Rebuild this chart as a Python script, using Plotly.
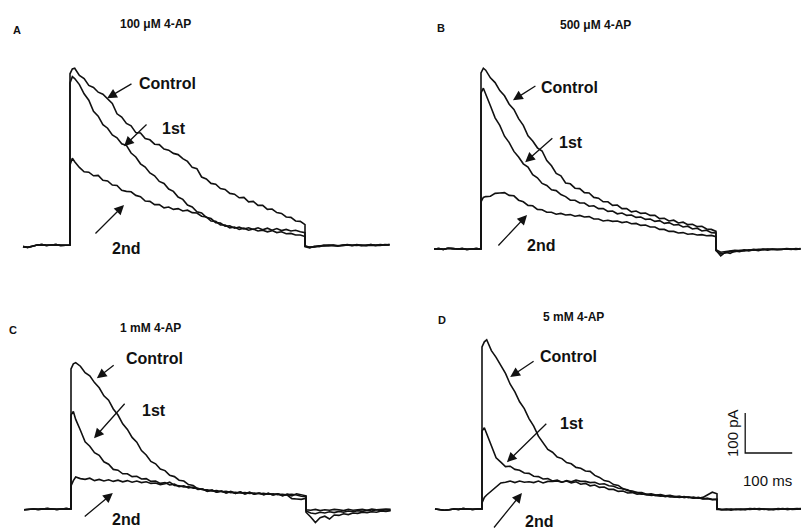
import plotly.graph_objects as go

# ---------------- data (ms, pA) ----------------
T_PRE = [-100, -90, -80, -70, -60, -50, -40, -30, -20, -10, 0]
T_PULSE = [0, 5, 10, 20, 30, 40, 50, 60, 70, 80, 90, 100, 110, 120, 130, 140, 150, 160, 170, 180,
           190, 200, 210, 220, 230, 240, 250, 260, 270, 280, 290, 300, 310, 320, 330, 340, 350, 360,
           370, 380, 390, 400, 410, 420, 430, 440, 450, 460, 470, 480, 490, 500]
T_POST = [500, 510, 520, 530, 540, 550, 560, 570, 580, 590, 600, 610, 620, 630, 640, 650, 660, 670, 680]

# Panel A: 100 uM 4-AP
A_PRE = [-4, -6, -3, 0, 1, -1, 0, 1, -1, 0, 0]
A_CTRL = [428, 440, 442, 424, 416, 399, 394, 382, 377, 366, 354, 328, 320, 304, 298, 281, 280, 266, 263, 252,
          251, 240, 237, 229, 226, 216, 209, 194, 191, 170, 165, 154, 152, 141, 139, 129, 127, 118, 119, 108,
          109, 99, 99, 89, 90, 81, 79, 70, 69, 60, 59, 51]
A_1ST = [405, 421, 416, 401, 378, 362, 334, 322, 301, 292, 275, 268, 253, 249, 230, 220, 203, 195, 180, 173,
         159, 154, 140, 134, 120, 114, 100, 95, 83, 80, 69, 66, 56, 55, 47, 48, 42, 45, 40, 43,
         39, 43, 38, 42, 37, 41, 36, 39, 35, 37, 33, 31]
A_2ND = [200, 217, 208, 194, 183, 182, 173, 174, 162, 160, 150, 149, 137, 134, 133, 124, 121, 110, 109, 101,
         101, 93, 95, 89, 91, 85, 87, 81, 80, 72, 70, 60, 59, 50, 50, 43, 45, 39, 42, 37,
         40, 35, 37, 33, 36, 31, 33, 28, 29, 25, 25, 21]
A_CTRL_POST = [-2, -6, -4, -3, -1, -2, 0, -2, -1, 1, -1, 0, -2, 0, 1, -1, 1, 0, 1]
A_1ST_POST = [-3, -5, -5, -2, -2, 0, -1, -3, 0, 0, -2, 1, -1, -1, 0, 0, -1, 1, 0]
A_2ND_POST = [-4, -7, -3, -4, -1, -1, -2, -1, -2, 0, -1, -1, 0, -2, 1, -1, 0, 0, 1]

# Panel B: 500 uM 4-AP
B_PRE = [0, 1, -1, 2, 1, 0, 1, -1, 0, 1, 0]
B_CTRL = [440, 452, 447, 428, 416, 396, 383, 362, 349, 326, 309, 283, 270, 253, 245, 221, 208, 189, 183, 165,
          163, 152, 151, 141, 140, 129, 127, 118, 118, 109, 110, 101, 101, 93, 95, 89, 90, 84, 84, 76,
          77, 70, 72, 65, 67, 61, 62, 56, 57, 50, 49, 44]
B_1ST = [390, 402, 386, 358, 328, 309, 282, 266, 244, 230, 213, 205, 186, 178, 164, 159, 148, 146, 136, 131,
         122, 122, 115, 115, 107, 108, 101, 101, 94, 95, 88, 90, 84, 85, 79, 80, 74, 75, 69, 71,
         64, 66, 60, 61, 55, 57, 50, 52, 45, 47, 41, 40]
B_2ND = [118, 129, 131, 132, 139, 140, 141, 134, 133, 122, 118, 109, 108, 99, 98, 92, 92, 87, 89, 85,
         86, 82, 84, 80, 81, 75, 75, 70, 72, 69, 70, 66, 68, 63, 64, 59, 60, 55, 55, 49,
         49, 44, 44, 40, 41, 37, 38, 35, 36, 33, 34, 31]
B_CTRL_POST = [-3, -17, -8, -11, -5, -7, -3, -5, -2, -4, -1, -3, 0, -2, -1, 0, -1, 1, 0]
B_1ST_POST = [-4, -12, -10, -6, -7, -4, -5, -2, -3, -1, -2, 0, -1, -1, 0, -1, 0, 0, 1]
B_2ND_POST = [-2, -8, -6, -5, -3, -4, -2, -3, -1, -2, 0, -1, -1, 0, -1, 1, 0, -1, 0]

# Panel C: 1 mM 4-AP
C_PRE = [-2, -1, 0, -1, 0, 1, 0, -1, 0, 1, 0]
C_CTRL = [350, 363, 366, 357, 341, 333, 316, 303, 283, 272, 250, 235, 213, 199, 179, 167, 146, 135, 119, 113,
          100, 96, 84, 81, 72, 70, 61, 59, 50, 50, 44, 47, 42, 45, 40, 44, 39, 43, 38, 42,
          37, 40, 36, 39, 35, 38, 33, 37, 33, 38, 36, 33]
C_1ST = [235, 244, 224, 197, 168, 157, 141, 134, 118, 112, 99, 97, 88, 88, 81, 82, 75, 76, 69, 70,
         64, 66, 60, 62, 56, 58, 53, 55, 49, 50, 45, 47, 42, 45, 40, 43, 39, 42, 38, 41,
         37, 40, 36, 39, 35, 38, 34, 36, 37, 35, 32, 31]
C_2ND = [58, 71, 80, 76, 74, 77, 71, 74, 70, 73, 69, 72, 68, 71, 67, 70, 66, 68, 64, 65,
         61, 63, 67, 59, 58, 55, 56, 52, 52, 48, 48, 45, 46, 43, 44, 41, 42, 40, 41, 39,
         40, 38, 39, 37, 38, 36, 37, 35, 26, 25, 24, 27]
C_CTRL_POST = [-5, -10, -12, -8, -10, -7, -9, -6, -8, -5, -7, -4, -6, -3, -5, -2, -4, -2, -3]
C_1ST_POST = [-8, -20, -34, -22, -18, -25, -15, -16, -12, -14, -10, -11, -8, -9, -7, -8, -5, -6, -4]
C_2ND_POST = [-2, -3, -1, -4, -2, -3, -1, -2, -4, -1, -3, -2, -1, -3, 0, -2, -1, 0, -1]

# Panel D: 5 mM 4-AP
D_PRE = [0, -1, -3, -2, 0, -1, 1, 0, -1, 0, 0]
D_CTRL = [405, 418, 423, 396, 379, 358, 339, 312, 293, 268, 251, 226, 207, 182, 166, 149, 142, 130, 126, 116,
          113, 104, 102, 95, 94, 84, 79, 71, 69, 61, 59, 50, 48, 42, 41, 37, 37, 34, 35, 32,
          33, 30, 31, 29, 31, 28, 30, 27, 29, 36, 42, 38]
D_1ST = [195, 203, 188, 156, 128, 117, 106, 107, 99, 97, 90, 89, 82, 81, 75, 76, 70, 72, 67, 70,
         65, 68, 62, 64, 58, 60, 54, 55, 49, 49, 44, 45, 40, 41, 37, 38, 35, 36, 33, 34,
         31, 33, 30, 31, 29, 30, 27, 28, 25, 26, 23, 23]
D_2ND = [15, 29, 35, 45, 53, 65, 67, 70, 66, 70, 67, 68, 66, 70, 65, 69, 69, 70, 67, 71,
         68, 72, 69, 69, 66, 67, 62, 63, 58, 57, 52, 51, 46, 45, 41, 41, 37, 38, 35, 36,
         33, 34, 31, 32, 29, 30, 27, 29, 26, 27, 24, 25]
D_CTRL_POST = [0, -2, -1, -3, 0, -1, -2, 0, 1, -1, 0, -1, -2, 0, 1, -1, 0, 1, 0]
D_1ST_POST = [-1, -1, -2, 0, -1, -2, 0, -1, 0, 1, -1, 0, -1, 1, 0, -1, 0, 0, 1]
D_2ND_POST = [1, -2, 0, -1, -2, 0, -1, 1, 0, -1, 0, -2, 0, -1, 0, 1, -1, 0, 0]

TITLES = ["100 \u03bcM 4-AP", "500 \u03bcM 4-AP", "1 mM 4-AP", "5 mM 4-AP"]
LETTERS = ["A", "B", "C", "D"]
SWEEP_NAMES = ["Control", "1st", "2nd"]
SCALE_MS = 100
SCALE_PA = 100

for arr in [A_CTRL, A_1ST, A_2ND, B_CTRL, B_1ST, B_2ND, C_CTRL, C_1ST, C_2ND, D_CTRL, D_1ST, D_2ND]:
    assert len(arr) == len(T_PULSE), len(arr)
for arr in [A_CTRL_POST, A_1ST_POST, A_2ND_POST, B_CTRL_POST, B_1ST_POST, B_2ND_POST,
            C_CTRL_POST, C_1ST_POST, C_2ND_POST, D_CTRL_POST, D_1ST_POST, D_2ND_POST]:
    assert len(arr) == len(T_POST), len(arr)

# ---------------- layout geometry (pixels) ----------------
W, H = 801, 529
PX_PER_MS = 0.47
PX_PER_PA = 0.40
XSPLIT, YSPLIT = 400.5, 264.5
# (onset px, baseline px, x-domain px, y-domain px)
GEOM = {
    "A": (70, 245, (0, XSPLIT), (0, YSPLIT)),
    "B": (481, 249, (XSPLIT, W), (0, YSPLIT)),
    "C": (71, 509, (0, XSPLIT), (YSPLIT, H)),
    "D": (482, 509, (XSPLIT, W), (YSPLIT, H)),
}

panels = {
    "A": (A_PRE, [(A_CTRL, A_CTRL_POST), (A_1ST, A_1ST_POST), (A_2ND, A_2ND_POST)]),
    "B": (B_PRE, [(B_CTRL, B_CTRL_POST), (B_1ST, B_1ST_POST), (B_2ND, B_2ND_POST)]),
    "C": (C_PRE, [(C_CTRL, C_CTRL_POST), (C_1ST, C_1ST_POST), (C_2ND, C_2ND_POST)]),
    "D": (D_PRE, [(D_CTRL, D_CTRL_POST), (D_1ST, D_1ST_POST), (D_2ND, D_2ND_POST)]),
}

# label / arrow placement per panel, in data units (ms, pA)
LABELS = {
    "A": dict(letter=(-113, 537), title=(181, 552),
              ctrl=(143, 405), ctrl_arrow=((134, 405), (79, 367)),
              first=(191, 292), first_arrow=((166, 305), (115, 247)),
              second=(85, -8), second_arrow=((51, 25), (115, 100))),
    "B": dict(letter=(-85, 552), title=(243, 560),
              ctrl=(123, 405), ctrl_arrow=((119, 410), (68, 372)),
              first=(162, 267), first_arrow=((155, 280), (94, 217)),
              second=(94, 10), second_arrow=((34, 5), (98, 85))),
    "C": dict(letter=(-123, 447), title=(169, 452),
              ctrl=(113, 377), ctrl_arrow=((94, 362), (55, 327)),
              first=(147, 247), first_arrow=((117, 267), (49, 177)),
              second=(83, -27), second_arrow=((26, -22), (89, 40))),
    "D": dict(letter=(-85, 472), title=(194, 480),
              ctrl=(119, 382), ctrl_arrow=((113, 372), (60, 330)),
              first=(162, 215), first_arrow=((140, 217), (53, 117)),
              second=(87, -31), second_arrow=((23, -50), (85, 40))),
}

FONT = "Liberation Sans, Arial, Helvetica, sans-serif"
INK = "#111111"

fig = go.Figure()
annotations = []
layout_axes = {}

for i, key in enumerate(["A", "B", "C", "D"]):
    onset, base, (xd0, xd1), (yd0, yd1) = GEOM[key]
    sfx = "" if i == 0 else str(i + 1)
    xref, yref = "x" + sfx, "y" + sfx
    xr = [(xd0 - onset) / PX_PER_MS, (xd1 - onset) / PX_PER_MS]
    yr = [(base - yd1) / PX_PER_PA, (base - yd0) / PX_PER_PA]
    layout_axes["xaxis" + sfx] = dict(domain=[xd0 / W, xd1 / W], range=xr, visible=False,
                                      anchor=yref, fixedrange=True)
    layout_axes["yaxis" + sfx] = dict(domain=[1 - yd1 / H, 1 - yd0 / H], range=yr, visible=False,
                                      anchor=xref, fixedrange=True)

    pre, sweeps = panels[key]
    for name, (pulse, post) in zip(SWEEP_NAMES, sweeps):
        fig.add_trace(go.Scatter(
            x=T_PRE + T_PULSE + T_POST, y=pre + pulse + post,
            mode="lines", name=name, line=dict(color=INK, width=1.6),
            xaxis=xref, yaxis=yref, showlegend=False, hoverinfo="skip", cliponaxis=False))

    L = LABELS[key]
    annotations.append(dict(x=L["letter"][0], y=L["letter"][1], xref=xref, yref=yref, text=LETTERS[i],
                            showarrow=False, font=dict(family=FONT, size=11, color=INK, weight="bold"),
                            xanchor="center", yanchor="middle"))
    annotations.append(dict(x=L["title"][0], y=L["title"][1], xref=xref, yref=yref, text=TITLES[i],
                            showarrow=False, font=dict(family=FONT, size=12, color=INK, weight="bold"),
                            xanchor="center", yanchor="middle"))
    for lab, txt in zip(["ctrl", "first", "second"], SWEEP_NAMES):
        annotations.append(dict(x=L[lab][0], y=L[lab][1], xref=xref, yref=yref, text=txt,
                                showarrow=False, font=dict(family=FONT, size=16, color=INK, weight="bold"),
                                xanchor="left", yanchor="middle"))
        (tx, ty), (hx, hy) = L[lab + "_arrow"]
        annotations.append(dict(x=hx, y=hy, ax=tx, ay=ty, xref=xref, yref=yref, axref=xref, ayref=yref,
                                text="", showarrow=True, arrowhead=2, arrowsize=1.5, arrowwidth=1.3,
                                arrowcolor=INK, standoff=0, startstandoff=0))

    if key == "D":
        sx, sy = 560, 140
        fig.add_trace(go.Scatter(x=[sx, sx, sx + SCALE_MS], y=[sy + SCALE_PA, sy, sy],
                                 mode="lines", line=dict(color=INK, width=1.3),
                                 xaxis=xref, yaxis=yref, showlegend=False, hoverinfo="skip"))
        annotations.append(dict(x=sx - 28, y=sy + SCALE_PA / 2, xref=xref, yref=yref,
                                text=f"{SCALE_PA} pA", textangle=-90, showarrow=False,
                                font=dict(family=FONT, size=15, color=INK),
                                xanchor="center", yanchor="middle"))
        annotations.append(dict(x=sx + SCALE_MS / 2 - 2, y=sy - 68, xref=xref, yref=yref,
                                text=f"{SCALE_MS} ms", showarrow=False,
                                font=dict(family=FONT, size=15, color=INK),
                                xanchor="center", yanchor="middle"))

fig.update_layout(width=W, height=H, margin=dict(l=0, r=0, t=0, b=0),
                  paper_bgcolor="white", plot_bgcolor="white",
                  annotations=annotations, **layout_axes)

# remove the page's default body margin so the figure fills the window exactly
fig.write_html("out.html", config={"displayModeBar": False},
               post_script="document.body.style.margin='0px';document.body.style.overflow='hidden';")
